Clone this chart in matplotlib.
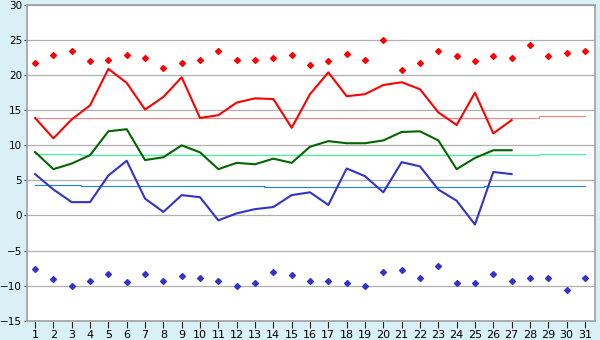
import matplotlib
matplotlib.use("Agg")
import matplotlib.pyplot as plt

days = list(range(1, 32))
days_obs = list(range(1, 28))

# observed daily values (days 1-27)
t_max = [13.9, 11.0, 13.7, 15.7, 20.9, 18.9, 15.1, 16.9, 19.7, 13.9,
         14.3, 16.1, 16.7, 16.6, 12.5, 17.3, 20.4, 17.0, 17.3, 18.6,
         19.0, 18.0, 14.7, 12.9, 17.5, 11.7, 13.6]
t_mean = [9.05, 6.6, 7.4, 8.6, 12.0, 12.3, 7.9, 8.3, 10.0, 9.0,
          6.6, 7.5, 7.3, 8.1, 7.5, 9.8, 10.6, 10.3, 10.3, 10.7,
          11.9, 12.0, 10.7, 6.6, 8.2, 9.3, 9.3]
t_min = [5.9, 3.7, 1.9, 1.9, 5.7, 7.8, 2.4, 0.5, 2.9, 2.6,
         -0.7, 0.3, 0.9, 1.2, 2.9, 3.3, 1.5, 6.7, 5.6, 3.3,
         7.6, 7.0, 3.7, 2.1, -1.3, 6.2, 5.9]

# record highs / lows (days 1-31)
rec_max = [21.8, 22.9, 23.4, 22.0, 22.2, 22.9, 22.5, 21.1, 21.7, 22.2,
           23.4, 22.2, 22.1, 22.5, 22.9, 21.4, 22.0, 23.0, 22.2, 25.0,
           20.7, 21.7, 23.4, 22.8, 22.0, 22.8, 22.4, 24.3, 22.8, 23.1, 23.4]
rec_min = [-7.7, -9.0, -10.0, -9.3, -8.3, -9.5, -8.3, -9.3, -8.6, -8.9,
           -9.3, -10.0, -9.6, -8.1, -8.5, -9.3, -9.3, -9.6, -10.0, -8.0,
           -7.8, -8.9, -7.2, -9.6, -9.6, -8.3, -9.3, -8.9, -8.9, -10.6, -8.9]

# normals (days 1-31)
norm_max = [13.86] * 17 + [13.95] * 11 + [14.24] * 3
norm_mean = [8.8] * 3 + [8.67] * 25 + [8.8] * 3
norm_min = [4.38] * 3 + [4.24] * 4 + [4.14] * 6 + [4.0] * 12 + [4.14] * 6

fig = plt.figure(figsize=(6, 3.4), dpi=100, facecolor="#daf0f7")
ax = fig.add_axes([0.045, 0.057, 0.9467, 0.928])
ax.set_facecolor("white")

ax.plot(days, norm_max, color="#ff8080", lw=0.8, drawstyle="steps-mid")
ax.plot(days, norm_mean, color="#33ff99", lw=0.8, drawstyle="steps-mid")
ax.plot(days, norm_min, color="#1a80ff", lw=0.8, drawstyle="steps-mid")

ax.plot(days_obs, t_max, color="#ff0000", lw=1.5)
ax.plot(days_obs, t_mean, color="#006600", lw=1.5)
ax.plot(days_obs, t_min, color="#3333cc", lw=1.5)

ax.plot(days, rec_max, ls="none", marker="D", ms=3.0, color="#ff0000")
ax.plot(days, rec_min, ls="none", marker="D", ms=3.0, color="#3333cc")

ax.set_xlim(0.56, 31.55)
ax.set_ylim(-15, 30)
ax.set_xticks(days)
ax.set_yticks(range(-15, 31, 5))
ax.yaxis.grid(True, color="#b0b0b0", lw=0.9)
ax.set_axisbelow(True)
for s in ax.spines.values():
    s.set_color("#a0a0a0")
    s.set_linewidth(1.2)
ax.tick_params(axis="x", length=5, color="#202020", labelsize=8, pad=2)
ax.tick_params(axis="y", length=2.5, color="#202020", labelsize=7.5, pad=1)

fig.savefig("out.png", dpi=100, facecolor=fig.get_facecolor())
